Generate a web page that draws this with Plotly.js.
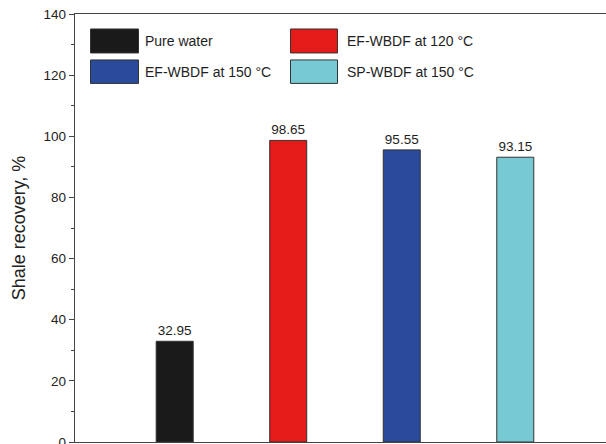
<!DOCTYPE html>
<html>
<head>
<meta charset="utf-8">
<script src="https://cdn.plot.ly/plotly-3.0.1.min.js"></script>
<style>
  html, body { margin: 0; padding: 0; background: #fff; }
  #chart { width: 606px; height: 444px; }
</style>
</head>
<body>
<div id="chart"></div>
<script>
// Shale recovery for each fluid
const fluids = ['Pure water', 'EF-WBDF at 120 °C', 'EF-WBDF at 150 °C', 'SP-WBDF at 150 °C'];
const recovery = [32.95, 98.65, 95.55, 93.15];
const barColors = ['#1a1a1a', '#e41b18', '#2a4a9b', '#77c9d4'];
const yTickVals = [0, 20, 40, 60, 80, 100, 120, 140];

// Plot area in pixels
const W = 606, H = 444;
const M = { l: 75, r: 0, t: 14, b: 1.5 };
const plotW = W - M.l - M.r, plotH = H - M.t - M.b;
const px = x => (x - M.l) / plotW;
const py = y => (H - M.b - y) / plotH;

const font = 'Arial, "Liberation Sans", sans-serif';

const trace = {
  type: 'bar',
  x: fluids,
  y: recovery,
  width: 0.326,
  marker: { color: barColors, line: { color: '#333', width: 1 } },
  text: recovery.map(v => v.toFixed(2)),
  textposition: 'outside',
  textfont: { family: font, size: 13.5, color: '#1e1e1e' },
  cliponaxis: false,
  showlegend: false,
  hoverinfo: 'x+y'
};

// Legend: two columns of wide swatches with labels
const legendSlots = [
  { x0: 90.5, x1: 138.5, y0: 29, y1: 53, tx: 143 },
  { x0: 290.5, x1: 337.5, y0: 29, y1: 53, tx: 344.5 },
  { x0: 90.5, x1: 138.5, y0: 60, y1: 83.5, tx: 143 },
  { x0: 290.5, x1: 337.5, y0: 60, y1: 83.5, tx: 344.5 }
];
const shapes = [], annotations = [];
fluids.forEach((name, i) => {
  const s = legendSlots[i];
  shapes.push({
    type: 'rect', xref: 'paper', yref: 'paper',
    x0: px(s.x0), x1: px(s.x1), y0: py(s.y1), y1: py(s.y0),
    fillcolor: barColors[i], line: { color: '#333', width: 1 }
  });
  annotations.push({
    xref: 'paper', yref: 'paper',
    x: px(s.tx), y: py((s.y0 + s.y1) / 2),
    xanchor: 'left', yanchor: 'middle', showarrow: false,
    text: name, font: { family: font, size: 14, color: '#1e1e1e' }
  });
});

const layout = {
  width: W, height: H,
  margin: M,
  paper_bgcolor: '#fff', plot_bgcolor: '#fff',
  font: { family: font, size: 13, color: '#222' },
  showlegend: false,
  xaxis: {
    type: 'category',
    range: [-0.878, 3.799],
    showticklabels: false, ticks: '',
    showgrid: false, zeroline: false,
    showline: true, linecolor: '#444', linewidth: 1.2, mirror: true
  },
  yaxis: {
    range: [0, 140],
    tickvals: yTickVals,
    ticks: 'outside', ticklen: 5, tickcolor: '#444', tickwidth: 1,
    minor: { dtick: 10, ticks: 'outside', ticklen: 3, tickcolor: '#444', tickwidth: 1, showgrid: false },
    showgrid: false, zeroline: false,
    showline: true, linecolor: '#444', linewidth: 1.2,
    ticklabeloverflow: 'allow',
    tickfont: { family: font, size: 13.5, color: '#222' },
    title: { text: 'Shale recovery, %', font: { family: font, size: 18, color: '#222' }, standoff: 13 }
  },
  shapes: shapes,
  annotations: annotations
};

Plotly.newPlot('chart', [trace], layout, { displayModeBar: false, staticPlot: true });
</script>
</body>
</html>
